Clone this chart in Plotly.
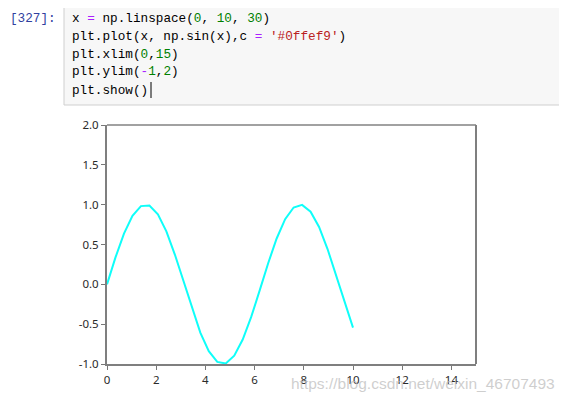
import plotly.graph_objects as go

x_vals = [0.0, 0.34483, 0.68966, 1.03448, 1.37931, 1.72414, 2.06897, 2.41379,
          2.75862, 3.10345, 3.44828, 3.79310, 4.13793, 4.48276, 4.82759, 5.17241,
          5.51724, 5.86207, 6.20690, 6.55172, 6.89655, 7.24138, 7.58621, 7.93103,
          8.27586, 8.62069, 8.96552, 9.31034, 9.65517, 10.0]
y_vals = [0.0, 0.33796, 0.63627, 0.85967, 0.98172, 0.98827, 0.87846, 0.66523,
          0.37368, 0.03813, -0.30190, -0.60639, -0.83949, -0.97375, -0.99337, -0.89604,
          -0.69322, -0.40878, -0.07622, 0.26532, 0.57562, 0.81814, 0.96436, 0.99703,
          0.91233, 0.72020, 0.44329, 0.11419, -0.22836, -0.54402]
x_ticks = [0, 2, 4, 6, 8, 10, 12, 14]
y_ticks = [-1.0, -0.5, 0.0, 0.5, 1.0, 1.5, 2.0]
y_tick_text = ["-1.0", "-0.5", "0.0", "0.5", "1.0", "1.5", "2.0"]

# the page body adds an 8px margin; work in page pixels and shift
OFF = 8
W, H = 567 - OFF, 401 - OFF
L, R, T, B = 107, 476, 125, 364  # plot area in page pixels
Lf, Rf, Tf, Bf = L - OFF, R - OFF, T - OFF, B - OFF


def px(xp):
    return (xp - L) / (R - L)


def py(yp):
    return (B - yp) / (B - T)


fig = go.Figure()
fig.add_trace(go.Scatter(x=x_vals, y=y_vals, mode="lines",
                         line=dict(color="#0ffef9", width=2), showlegend=False,
                         hoverinfo="skip"))

axis_font = dict(family="Noto Sans, DejaVu Sans, sans-serif", size=11.5, color="#2a2a2a")
fig.update_layout(
    width=W, height=H,
    margin=dict(l=Lf, r=W - Rf, t=Tf, b=H - Bf, pad=0),
    paper_bgcolor="white", plot_bgcolor="white",
    xaxis=dict(range=[0, 15], tickvals=x_ticks, ticks="outside", ticklen=4,
               tickcolor="#777777", showgrid=False, zeroline=False,
               showline=True, linecolor="#7f7f7f", linewidth=2,
               tickfont=axis_font),
    yaxis=dict(range=[-1, 2], tickvals=y_ticks, ticktext=y_tick_text,
               ticks="outside", ticklen=4, tickcolor="#777777",
               showgrid=False, zeroline=False, showline=True,
               linecolor="#7f7f7f", linewidth=2, tickfont=axis_font),
)

shapes = []
# top and right spines
shapes.append(dict(type="line", xref="paper", yref="paper", x0=0, x1=1, y0=1, y1=1,
                   line=dict(color="#444444", width=1.2)))
shapes.append(dict(type="line", xref="paper", yref="paper", x0=1, x1=1, y0=0, y1=1,
                   line=dict(color="#7f7f7f", width=2)))
# code cell box
shapes.append(dict(type="rect", xref="paper", yref="paper",
                   x0=px(64), x1=px(580), y0=py(105), y1=py(2.5),
                   fillcolor="#f7f7f7", line=dict(color="#cfcfcf", width=1),
                   layer="below"))
# text cursor
shapes.append(dict(type="line", xref="paper", yref="paper",
                   x0=px(151), x1=px(151), y0=py(98), y1=py(82),
                   line=dict(color="#000000", width=1)))

mono = dict(family="Liberation Mono, DejaVu Sans Mono, monospace", size=12.7, color="#000000")
EQ = '<span style="color:#aa22ff">=</span>'
MINUS = '<span style="color:#aa22ff">-</span>'


def num(s):
    return '<span style="color:#008000">' + s + '</span>'


code_lines = [
    "x " + EQ + " np.linspace(" + num("0") + ", " + num("10") + ", " + num("30") + ")",
    "plt.plot(x, np.sin(x),c " + EQ + ' <span style="color:#ba2121">\'#0ffef9\'</span>)',
    "plt.xlim(" + num("0") + "," + num("15") + ")",
    "plt.ylim(" + MINUS + num("1") + "," + num("2") + ")",
    "plt.show()",
]
line_y = [18, 36, 54, 72, 90]

annotations = []
annotations.append(dict(text="[327]:", xref="paper", yref="paper", x=px(58), y=py(18),
                        xanchor="right", yanchor="middle", showarrow=False,
                        font=dict(family=mono["family"], size=12.7, color="#303f9f")))
for t, yy in zip(code_lines, line_y):
    annotations.append(dict(text=t, xref="paper", yref="paper", x=px(70), y=py(yy),
                            xanchor="left", yanchor="middle", showarrow=False,
                            font=mono))
# watermark
annotations.append(dict(text="https://blog.csdn.net/weixin_46707493", xref="paper",
                        yref="paper", x=px(557), y=py(383), xanchor="right",
                        yanchor="middle", showarrow=False,
                        font=dict(family="Liberation Sans, Arial, sans-serif", size=15.5,
                                  color="rgba(190,190,190,0.75)")))

fig.update_layout(shapes=shapes, annotations=annotations)
fig.write_html("out.html")
